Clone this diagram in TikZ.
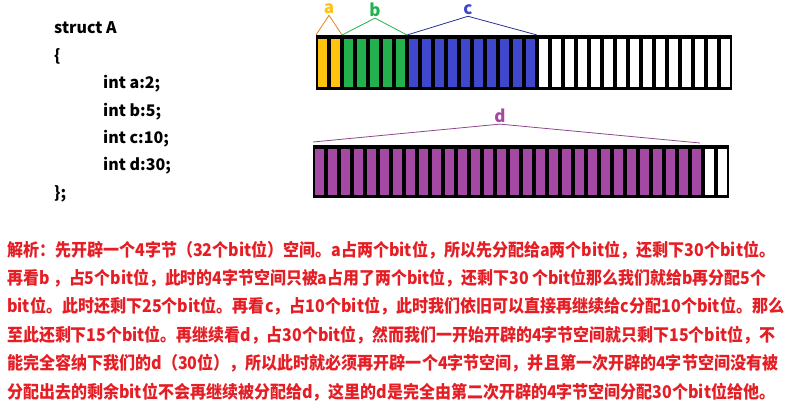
\documentclass[tikz,border=0pt]{standalone}
\usepackage{fontspec}
\usepackage{graphicx}
\setmainfont{Noto Sans CJK SC}
\usetikzlibrary{positioning}

\definecolor{bitA}{RGB}{255,194,14}
\definecolor{bitB}{RGB}{34,177,76}
\definecolor{bitC}{RGB}{63,72,204}
\definecolor{bitD}{RGB}{163,73,164}
\definecolor{braceA}{RGB}{228,130,30}
\definecolor{braceC}{RGB}{40,50,150}
\definecolor{braceD}{RGB}{140,70,140}
\definecolor{noteRed}{RGB}{228,30,36}

% squeeze a line of the note to a given width
\newcommand{\noteline}[2]{\resizebox{#1pt}{\height}{#2}}

\begin{document}
\begin{tikzpicture}[x=1pt, y=-1pt,
  code/.style={anchor=base west, inner sep=0pt, font=\bfseries\fontsize{16}{18}\selectfont},
  note/.style={anchor=base west, inner sep=0pt, text=noteRed, font=\bfseries\fontsize{17.5}{20}\selectfont},
  tag/.style={inner sep=1pt, font=\bfseries\fontsize{17}{20}\selectfont}]
  \useasboundingbox (0,0) rectangle (809,416);

  % The struct declaration
  \node[code] (sname) at (54,33) {struct A};
  \node[code] (sopen) at (54,61) {\{};
  \node[code] (fa) at (103,88) {int a:2;};
  \node[code] (fb) at (103,116) {int b:5;};
  \node[code] (fc) at (103,143) {int c:10;};
  \node[code] (fd) at (103,170) {int d:30;};
  \node[code] (sclose) at (54,198) {\};};

  % First 4-byte unit (32 bits)
  \fill[black] (316,35) rectangle (732,90);
  \foreach \first/\last/\col in {0/1/bitA, 2/6/bitB, 7/16/bitC, 17/31/white}
    \foreach \i in {\first,...,\last}
      \fill[\col] ({316+13*\i+1.6},39) rectangle ({316+13*\i+11.4},86.5);

  % Second 4-byte unit (32 bits)
  \fill[black] (313,145) rectangle (729,198);
  \foreach \first/\last/\col in {0/29/bitD, 30/31/white}
    \foreach \i in {\first,...,\last}
      \fill[\col] ({313+13*\i+1.6},149) rectangle ({313+13*\i+11.4},194.5);

  % Group boundaries on top of the bars
  \coordinate (a0) at (316,35);
  \coordinate (a1) at (342,35);
  \coordinate (b1) at (407,35);
  \coordinate (c1) at (537,35);
  \coordinate (d0) at (313,142);
  \coordinate (d1) at (700,143);

  % Field labels
  \node[tag, text=bitA] (la) at (329,9) {a};
  \node[tag, text=bitB] (lb) at (375,10) {b};
  \node[tag, text=bitC] (lc) at (468,10) {c};
  \node[tag, text=bitD] (ld) at (500,116) {d};

  % Lines from labels to their bits
  \draw[braceA, line width=0.8pt] (a0) -- (la.south) -- (a1);
  \draw[bitB, line width=0.8pt] (a1) -- (lb.south) -- (b1);
  \draw[braceC, line width=0.8pt] (b1) -- (lc.south) -- (c1);
  \draw[braceD, line width=0.8pt] (d0) -- (ld.south) -- (d1);

  % Explanation
  \node[note] (n1) at (7,256) {\noteline{768}{解析：先开辟一个4字节（32个bit位）空间。a占两个bit位，所以先分配给a两个bit位，还剩下30个bit位。}};
  \node[note] (n2) at (7,284.4) {\noteline{759}{再看b ，占5个bit位，此时的4字节空间只被a占用了两个bit位，还剩下30 个bit位那么我们就给b再分配5个}};
  \node[note] (n3) at (7,312.8) {\noteline{777}{bit位。此时还剩下25个bit位。再看c，占10个bit位，此时我们依旧可以直接再继续给c分配10个bit位。那么}};
  \node[note] (n4) at (7,341.2) {\noteline{768}{至此还剩下15个bit位。再继续看d，占30个bit位，然而我们一开始开辟的4字节空间就只剩下15个bit位，不}};
  \node[note] (n5) at (7,369.6) {\noteline{771}{能完全容纳下我们的d（30位），所以此时就必须再开辟一个4字节空间，并且第一次开辟的4字节空间没有被}};
  \node[note] (n6) at (7,398) {\noteline{768}{分配出去的剩余bit位不会再继续被分配给d，这里的d是完全由第二次开辟的4字节空间分配30个bit位给他。}};
\end{tikzpicture}
\end{document}
